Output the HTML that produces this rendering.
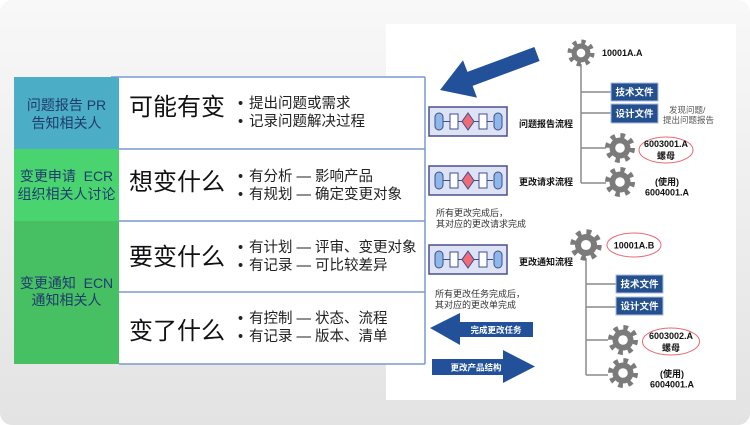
<!DOCTYPE html>
<html><head><meta charset="utf-8"><style>
html,body{margin:0;padding:0;background:#fff;}
body{width:750px;height:425px;position:relative;overflow:hidden;font-family:"Liberation Sans","Noto Sans CJK SC",sans-serif;}
#panel{position:absolute;left:0;top:0;width:750px;height:425px;border-radius:12px;background:linear-gradient(#f8f8f8,#e3e3e3);}
#img{position:absolute;left:386px;top:24px;width:350px;height:376px;background:#fff;}
svg{position:absolute;left:0;top:0;}
.lc{position:absolute;left:14px;width:105px;text-align:center;color:#1f3c6e;font-size:14px;line-height:18px;white-space:nowrap;}
.big{position:absolute;left:129px;font-size:24px;line-height:28px;color:#111;white-space:nowrap;}
.bl{position:absolute;left:238px;font-size:14.5px;line-height:18px;color:#222;white-space:nowrap;}
.bl span{display:inline-block;width:11px;}
</style></head><body>
<div id="panel"></div>
<div id="img"></div>
<svg width="750" height="425" viewBox="0 0 750 425">
<defs>
<g id="gear">
<circle r="10.5" fill="#7b7b7b"/>
<circle r="12.5" fill="none" stroke="#7b7b7b" stroke-width="5" stroke-dasharray="4.6 5.217"/>
<circle r="4.8" fill="#fff"/>
</g>
<g id="proc">
<rect x="0" y="0" width="78" height="29" fill="#dde2f4" stroke="#4b4f8c" stroke-width="1.5"/>
<line x1="14" y1="14.5" x2="64" y2="14.5" stroke="#3e4f8c" stroke-width="1"/>
<rect x="6" y="6" width="8" height="17" rx="4" fill="#8fb8ea" stroke="#3e4f8c" stroke-width="1"/>
<rect x="21" y="7" width="8" height="15" fill="#fff" stroke="#3e4f8c" stroke-width="1"/>
<polygon points="39,6 45,14.5 39,23 33,14.5" fill="#f06b7a" stroke="#3e4f8c" stroke-width="1"/>
<rect x="50" y="7" width="8" height="15" fill="#fff" stroke="#3e4f8c" stroke-width="1"/>
<rect x="65" y="6" width="8" height="17" rx="4" fill="#8fb8ea" stroke="#3e4f8c" stroke-width="1"/>
</g>
</defs>

<!-- big arrow -->
<polygon points="534.4,47 467.4,71.9 463,60.2 440,90 477,97.6 472.6,85.9 539.6,61" fill="#22519a"/>

<!-- process icons -->
<use href="#proc" x="429" y="107"/>
<use href="#proc" x="429" y="166"/>
<use href="#proc" x="429" y="245"/>

<g font-family="Liberation Sans, Noto Sans CJK SC, sans-serif" font-weight="bold" font-size="9" fill="#111">
<text x="519" y="127">问题报告流程</text>
<text x="519" y="185">更改请求流程</text>
<text x="519" y="265">更改通知流程</text>
</g>
<g font-family="Liberation Sans, Noto Sans CJK SC, sans-serif" font-size="9" fill="#333">
<text x="436" y="216">所有更改完成后，</text>
<text x="436" y="227">其对应的更改请求完成</text>
<text x="435" y="297">所有更改任务完成后，</text>
<text x="435" y="308">其对应的更改单完成</text>
</g>

<!-- left arrow -->
<polygon points="430,328 460,313 460,322 533,322 533,337 460,337 460,345" fill="#22519a"/>
<text x="496" y="333" text-anchor="middle" font-family="Liberation Sans, Noto Sans CJK SC, sans-serif" font-weight="bold" font-size="8.5" fill="#fff">完成更改任务</text>
<!-- right arrow -->
<polygon points="432,359 503,359 503,350 535,366.5 503,383 503,375 432,375" fill="#22519a"/>
<text x="476" y="370.5" text-anchor="middle" font-family="Liberation Sans, Noto Sans CJK SC, sans-serif" font-weight="bold" font-size="8.5" fill="#fff">更改产品结构</text>

<!-- trees -->
<g stroke="#8a8a8a" stroke-width="1.5" fill="none">
<line x1="581" y1="64" x2="581" y2="183"/>
<line x1="581" y1="92" x2="611" y2="92"/>
<line x1="581" y1="113" x2="611" y2="113"/>
<line x1="581" y1="148" x2="606" y2="148"/>
<line x1="581" y1="183" x2="606" y2="183"/>
<line x1="586" y1="258" x2="586" y2="375"/>
<line x1="586" y1="284" x2="616" y2="284"/>
<line x1="586" y1="307" x2="616" y2="307"/>
<line x1="586" y1="340" x2="608" y2="340"/>
<line x1="586" y1="375" x2="608" y2="375"/>
</g>
<use href="#gear" transform="translate(581,53) scale(0.9)"/>
<use href="#gear" transform="translate(620,148)"/>
<use href="#gear" transform="translate(620,182)"/>
<use href="#gear" transform="translate(586,245) scale(1.05)"/>
<use href="#gear" transform="translate(623,340)"/>
<use href="#gear" transform="translate(623,373)"/>

<g stroke="#a8bbdc" stroke-width="1" fill="#24508f">
<rect x="611" y="83" width="47" height="18"/>
<rect x="611" y="104" width="47" height="19"/>
<rect x="616" y="275" width="47" height="18"/>
<rect x="616" y="297" width="47" height="18"/>
</g>
<g font-family="Liberation Sans, Noto Sans CJK SC, sans-serif" font-weight="bold" font-size="9.5" fill="#fff" text-anchor="middle">
<text x="634.5" y="95.5">技术文件</text>
<text x="634.5" y="117">设计文件</text>
<text x="639.5" y="287.5">技术文件</text>
<text x="639.5" y="309.5">设计文件</text>
</g>

<g fill="none" stroke="#e86a76" stroke-width="1">
<ellipse cx="666" cy="150" rx="27" ry="13"/>
<ellipse cx="634" cy="245" rx="27" ry="12"/>
<ellipse cx="671" cy="341.5" rx="28.5" ry="13.5"/>
</g>
<g font-family="Liberation Sans, Noto Sans CJK SC, sans-serif" font-weight="bold" font-size="9" fill="#111" text-anchor="middle">
<text x="602" y="56" text-anchor="start">10001A.A</text>
<text x="666" y="147">6003001.A</text>
<text x="666" y="159">螺母</text>
<text x="667" y="185">(使用)</text>
<text x="667" y="195.5">6004001.A</text>
<text x="634" y="248.5">10001A.B</text>
<text x="671" y="339">6003002.A</text>
<text x="671" y="351">螺母</text>
<text x="672" y="377">(使用)</text>
<text x="672" y="387.5">6004001.A</text>
</g>
<g font-family="Liberation Sans, Noto Sans CJK SC, sans-serif" font-size="8.5" fill="#555">
<text x="669" y="113">发现问题/</text>
<text x="663" y="123">提出问题报告</text>
</g>

<!-- table -->
<rect x="14" y="77" width="105" height="72" fill="#4badc6"/>
<rect x="14" y="149" width="105" height="72" fill="#4ad470"/>
<rect x="14" y="221" width="105" height="143" fill="#47bf63"/>
<rect x="119" y="77" width="306" height="287" fill="#fff"/>
<g stroke="#7a99d3" stroke-width="1.5" fill="none">
<line x1="111" y1="77" x2="425" y2="77"/>
<line x1="119" y1="149" x2="425" y2="149"/>
<line x1="119" y1="221" x2="425" y2="221"/>
<line x1="119" y1="292" x2="425" y2="292"/>
<line x1="119" y1="364" x2="425" y2="364"/>
<line x1="425" y1="77" x2="425" y2="364"/>
</g>
</svg>

<div class="lc" style="top:96px;">问题报告 PR<br>告知相关人</div>
<div class="lc" style="top:168px;line-height:17.5px;">变更申请&nbsp; ECR<br>组织相关人讨论</div>
<div class="lc" style="top:275px;line-height:17px;">变更通知&nbsp; ECN<br>通知相关人</div>

<div class="big" style="top:94px;">可能有变</div>
<div class="big" style="top:169px;">想变什么</div>
<div class="big" style="top:244px;">要变什么</div>
<div class="big" style="top:318px;">变了什么</div>

<div class="bl" style="top:95px;"><span>•</span>提出问题或需求<br><span>•</span>记录问题解决过程</div>
<div class="bl" style="top:168px;"><span>•</span>有分析 — 影响产品<br><span>•</span>有规划 — 确定变更对象</div>
<div class="bl" style="top:239px;"><span>•</span>有计划 — 评审、变更对象<br><span>•</span>有记录 — 可比较差异</div>
<div class="bl" style="top:310px;"><span>•</span>有控制 — 状态、流程<br><span>•</span>有记录 — 版本、清单</div>
</body></html>
